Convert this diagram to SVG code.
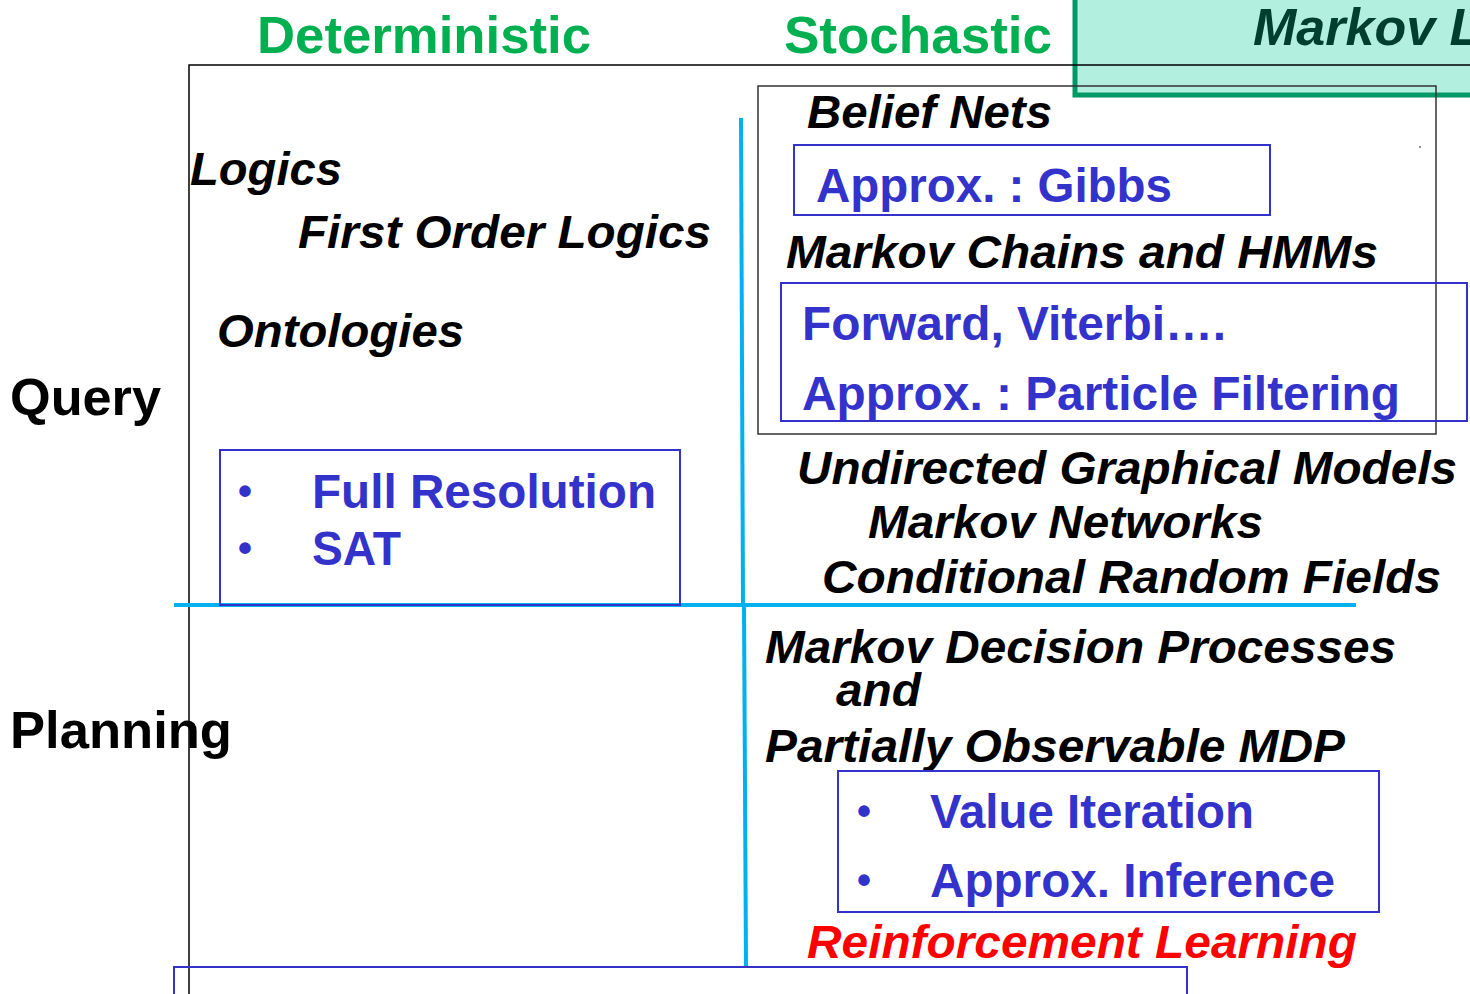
<svg xmlns="http://www.w3.org/2000/svg" width="1470" height="994" viewBox="0 0 1470 994">
<style>
.hd{font-family:"Liberation Sans",Arial,sans-serif;font-weight:bold;font-size:52px;fill:#00b050}
.lab{font-family:"Liberation Sans",Arial,sans-serif;font-weight:bold;font-size:52px;fill:#000}
.it{font-family:"Liberation Sans",Arial,sans-serif;font-weight:bold;font-style:italic;font-size:47px;fill:#000}
.bl{font-family:"Liberation Sans",Arial,sans-serif;font-weight:bold;font-size:48px;fill:#3333cc}
.bx{fill:none;stroke:#3333cc;stroke-width:2}
.cy{stroke:#00b0f0;stroke-width:4;fill:none}
</style>
<rect width="1470" height="994" fill="#fff"/>
<g id="markov-logic">
<rect x="1075" y="-6" width="400" height="101" fill="#b3efdf" stroke="#009966" stroke-width="5"/>
<text x="1253" y="45" class="it" style="font-size:52px;fill:#003f2f">Markov L</text>
</g>
<g id="frame">
<polyline points="1475,65 189,65 189,994" fill="none" stroke="#000" stroke-width="1.5"/>
</g>
<g id="headers">
<text x="257" y="53" class="hd" textLength="334" lengthAdjust="spacingAndGlyphs">Deterministic</text>
<text x="784" y="53" class="hd" textLength="268" lengthAdjust="spacingAndGlyphs">Stochastic</text>
<text x="10" y="415" class="lab" textLength="151" lengthAdjust="spacingAndGlyphs">Query</text>
<text x="10" y="748" class="lab" textLength="222" lengthAdjust="spacingAndGlyphs">Planning</text>
</g>
<g id="connectors">
<line x1="741" y1="118" x2="743" y2="605" class="cy"/>
<line x1="744" y1="605" x2="746" y2="967" class="cy"/>
<line x1="174" y1="605" x2="1356" y2="605" class="cy"/>
</g>
<g id="logics">
<text x="190" y="185" class="it" textLength="152" lengthAdjust="spacingAndGlyphs">Logics</text>
<text x="298" y="248" class="it" textLength="413" lengthAdjust="spacingAndGlyphs">First Order Logics</text>
<text x="217" y="347" class="it" textLength="247" lengthAdjust="spacingAndGlyphs">Ontologies</text>
</g>
<g id="resolution-box">
<rect x="220" y="450" width="460" height="155" class="bx"/>
<text x="238" y="505" class="bl" style="font-size:40px">•</text>
<text x="238" y="562" class="bl" style="font-size:40px">•</text>
<text x="312" y="508" class="bl" textLength="344" lengthAdjust="spacingAndGlyphs">Full Resolution</text>
<text x="312" y="565" class="bl" textLength="89" lengthAdjust="spacingAndGlyphs">SAT</text>
</g>
<g id="belief-nets">
<rect x="758" y="86" width="678" height="348" fill="none" stroke="#333" stroke-width="1.5"/>
<text x="807" y="128" class="it" textLength="245" lengthAdjust="spacingAndGlyphs">Belief Nets</text>
<circle cx="1420" cy="147" r="0.8" fill="#000"/>
</g>
<g id="gibbs-box">
<rect x="794" y="145" width="476" height="70" class="bx"/>
<text x="816" y="202" class="bl" textLength="356" lengthAdjust="spacingAndGlyphs">Approx. : Gibbs</text>
</g>
<g id="markov-chains">
<text x="786" y="268" class="it" textLength="592" lengthAdjust="spacingAndGlyphs">Markov Chains and HMMs</text>
</g>
<g id="forward-box">
<rect x="781" y="283" width="686" height="138" class="bx"/>
<text x="802" y="340" class="bl" textLength="424" lengthAdjust="spacingAndGlyphs">Forward, Viterbi….</text>
<text x="802" y="410" class="bl" textLength="598" lengthAdjust="spacingAndGlyphs">Approx. : Particle Filtering</text>
</g>
<g id="undirected">
<text x="797" y="484" class="it" textLength="660" lengthAdjust="spacingAndGlyphs">Undirected Graphical Models</text>
<text x="868" y="538" class="it" textLength="395" lengthAdjust="spacingAndGlyphs">Markov Networks</text>
<text x="822" y="593" class="it" textLength="619" lengthAdjust="spacingAndGlyphs">Conditional Random Fields</text>
</g>
<g id="mdp">
<text x="765" y="663" class="it" textLength="631" lengthAdjust="spacingAndGlyphs">Markov Decision Processes</text>
<text x="836" y="706" class="it" textLength="85" lengthAdjust="spacingAndGlyphs">and</text>
<text x="765" y="762" class="it" textLength="580" lengthAdjust="spacingAndGlyphs">Partially Observable MDP</text>
</g>
<g id="value-box">
<rect x="838" y="771" width="541" height="141" class="bx"/>
<text x="857" y="825" class="bl" style="font-size:40px">•</text>
<text x="857" y="894" class="bl" style="font-size:40px">•</text>
<text x="930" y="828" class="bl" textLength="324" lengthAdjust="spacingAndGlyphs">Value Iteration</text>
<text x="930" y="897" class="bl" textLength="405" lengthAdjust="spacingAndGlyphs">Approx. Inference</text>
</g>
<g id="reinforcement">
<text x="807" y="958" class="it" style="fill:#ff0000" textLength="550" lengthAdjust="spacingAndGlyphs">Reinforcement Learning</text>
</g>
<g id="bottom-box">
<rect x="174" y="967" width="1013" height="40" class="bx"/>
</g>
</svg>
